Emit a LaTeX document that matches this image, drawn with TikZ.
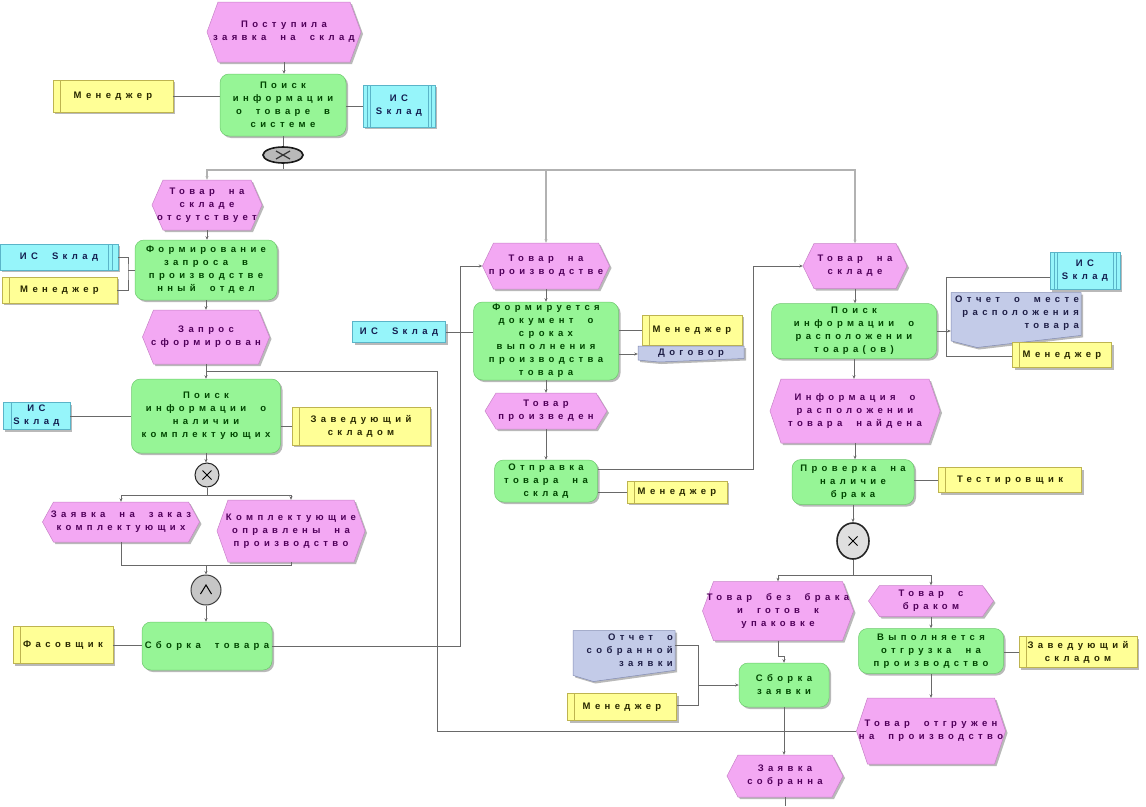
\documentclass[tikz,border=0pt]{standalone}
\usepackage{fontspec}
\setmainfont{Liberation Sans}[LetterSpace=46,WordSpace=2]
\usetikzlibrary{shapes.geometric,shadows,arrows.meta,calc}
\definecolor{evfill}{RGB}{243,168,243}
\definecolor{evedge}{RGB}{200,130,200}
\definecolor{evtext}{RGB}{80,0,90}
\definecolor{fncol}{RGB}{150,245,150}
\definecolor{fnedge}{RGB}{110,200,110}
\definecolor{fntext}{RGB}{0,70,0}
\definecolor{rolecol}{RGB}{255,255,150}
\definecolor{roleedge}{RGB}{190,180,80}
\definecolor{roletext}{RGB}{40,40,0}
\definecolor{iscol}{RGB}{150,245,250}
\definecolor{isedge}{RGB}{90,180,200}
\definecolor{istext}{RGB}{20,30,80}
\definecolor{doccol}{RGB}{195,203,232}
\definecolor{docedge}{RGB}{130,140,180}
\definecolor{doctext}{RGB}{30,30,70}
\definecolor{linecol}{RGB}{105,105,105}
\definecolor{shadowcol}{RGB}{185,185,185}
\newcommand\dgfont{\fontsize{9.5}{13}\selectfont\bfseries}
\newcommand\ev[6]{%
\fill[shadowcol] ({#2-#4/2+2},{#3+2}) -- ({#2-#4/2+13},{#3-#5/2+2}) -- ({#2+#4/2-9},{#3-#5/2+2}) -- ({#2+#4/2+2},{#3+2}) -- ({#2+#4/2-9},{#3+#5/2+2}) -- ({#2-#4/2+13},{#3+#5/2+2}) -- cycle;
\filldraw[evshape] ({#2-#4/2},{#3}) -- ({#2-#4/2+11},{#3-#5/2}) -- ({#2+#4/2-11},{#3-#5/2}) -- ({#2+#4/2},{#3}) -- ({#2+#4/2-11},{#3+#5/2}) -- ({#2-#4/2+11},{#3+#5/2}) -- cycle;
\node[evt, minimum width=#4, minimum height=#5] (#1) at (#2,#3) {#6};}
\newcommand\docshape[5]{%
\fill[shadowcol] ({#2-#4/2+2},{#3-#5/2+2}) -- ({#2+#4/2+2},{#3-#5/2+2}) -- ({#2+#4/2+2},{#3+#5/2-0.22*#5+2}) -- ({#2-#4/2+0.2*#4+2},{#3+#5/2+2}) -- ({#2-#4/2+2},{#3+#5/2-0.12*#5+2}) -- cycle;
\filldraw[docfill] ({#2-#4/2},{#3-#5/2}) -- ({#2+#4/2},{#3-#5/2}) -- ({#2+#4/2},{#3+#5/2-0.22*#5}) -- ({#2-#4/2+0.2*#4},{#3+#5/2}) -- ({#2-#4/2},{#3+#5/2-0.12*#5}) -- cycle;
\node[docbox, minimum width=#4, minimum height=#5] (#1) at (#2,#3) {};}
% document with right-aligned text at the top
\newcommand\docuR[6]{\docshape{#1}{#2}{#3}{#4}{#5}%
\node[doct, align=right, anchor=north east] (#1t) at ({#2+#4/2-2},{#3-#5/2+3}) {#6};}
% document with centred text
\newcommand\docuC[6]{\docshape{#1}{#2}{#3}{#4}{#5}%
\node[doct, align=center] (#1t) at (#2,{#3-1}) {#6};}
\newcommand\vdown[2]{\draw[flow] (#1.south) -- (#1.south |- #2.north);}
\begin{document}
\begin{tikzpicture}[x=1pt,y=-1pt,
  conn/.style={draw=linecol, line width=0.8pt},
  flow/.style={conn, -{Stealth[length=3.5pt,width=3pt]}},
  trunk/.style={draw=gray!60, line width=1.4pt, -{Stealth[length=3.5pt,width=3pt]}},
  sh/.style={drop shadow={shadow xshift=2pt, shadow yshift=-2pt, fill=shadowcol, opacity=1}},
  evshape/.style={fill=evfill, draw=evedge, line width=0.5pt},
  docfill/.style={fill=doccol, draw=docedge, line width=0.5pt},
  docbox/.style={rectangle, inner sep=0pt},
  evt/.style={rectangle, inner sep=0pt, align=center, text=evtext, font=\dgfont},
  doct/.style={rectangle, inner sep=0pt, text=doctext, font=\dgfont},
  fn/.style={rectangle, rounded corners=9pt, fill=fncol, draw=fnedge, line width=0.5pt, inner sep=0pt, align=center, text=fntext, font=\dgfont, sh},
  role/.style={rectangle, fill=rolecol, draw=roleedge, line width=0.5pt, inner sep=0pt, align=center, text=roletext, font=\dgfont, sh,
    path picture={\draw[roleedge, line width=0.8pt] ([xshift=7pt]path picture bounding box.north west) -- ([xshift=7pt]path picture bounding box.south west);}},
  is/.style={rectangle, fill=iscol, draw=isedge, line width=0.5pt, inner sep=0pt, align=center, text=istext, font=\dgfont, sh},
  isR/.style={path picture={\draw[isedge, line width=0.7pt] ([xshift=-6pt]path picture bounding box.north east) -- ([xshift=-6pt]path picture bounding box.south east) ([xshift=-10pt]path picture bounding box.north east) -- ([xshift=-10pt]path picture bounding box.south east);}},
  isL/.style={path picture={\draw[isedge, line width=0.7pt] ([xshift=8pt]path picture bounding box.north west) -- ([xshift=8pt]path picture bounding box.south west);}},
  isLR/.style={path picture={\draw[isedge, line width=0.7pt] ([xshift=4pt]path picture bounding box.north west) -- ([xshift=4pt]path picture bounding box.south west) ([xshift=7pt]path picture bounding box.north west) -- ([xshift=7pt]path picture bounding box.south west) ([xshift=-4pt]path picture bounding box.north east) -- ([xshift=-4pt]path picture bounding box.south east) ([xshift=-7pt]path picture bounding box.north east) -- ([xshift=-7pt]path picture bounding box.south east);}},
  gx/.style={circle, draw=black!85, fill=gray!35, line width=1pt, inner sep=0pt,
    path picture={\draw[black, line width=1pt] ([shift={(-4.5pt,-4.5pt)}]path picture bounding box.center) -- ([shift={(4.5pt,4.5pt)}]path picture bounding box.center) ([shift={(-4.5pt,4.5pt)}]path picture bounding box.center) -- ([shift={(4.5pt,-4.5pt)}]path picture bounding box.center);}},
  gx1/.style={ellipse, draw=black!90, fill=gray!55, line width=1.6pt, inner sep=0pt, minimum width=40pt, minimum height=16pt,
    path picture={\draw[black!80, line width=1.2pt] ([shift={(-7pt,-4pt)}]path picture bounding box.center) -- ([shift={(7pt,4pt)}]path picture bounding box.center) ([shift={(-7pt,4pt)}]path picture bounding box.center) -- ([shift={(7pt,-4pt)}]path picture bounding box.center);}},
  ga/.style={circle, draw=black!75, fill=gray!45, line width=1pt, inner sep=0pt,
    path picture={\draw[black, line width=1pt] ([shift={(-5.5pt,-4pt)}]path picture bounding box.center) -- ([shift={(0pt,5pt)}]path picture bounding box.center) -- ([shift={(5.5pt,-4pt)}]path picture bounding box.center);}}
]
\useasboundingbox (0,0) rectangle (1146,806);
\fill[white] (0,0) rectangle (1146,806);

% ---------- top ----------
\ev{e1}{284}{32}{154}{60}{Поступила\\заявка на склад}
\node[fn, minimum width=126, minimum height=62] (f1) at (283,105) {Поиск\\информации\\о товаре в\\системе};
\node[role, minimum width=120, minimum height=32] (r1) at (113,96) {Менеджер};
\node[is, isLR, minimum width=72, minimum height=42] (s1) at (399,106) {ИС\\Sклад};
\node[gx1] (g1) at (283,155) {};
\coordinate (b1) at (283,170);

% ---------- left column ----------
\ev{e2}{207}{205}{110}{50}{Товар на\\складе\\отсутствует}
\node[fn, minimum width=142, minimum height=60] (f2) at (206,270) {Формирование\\запроса в\\производстве\\нный отдел};
\node[is, isR, minimum width=118, minimum height=26] (s2) at (59,257) {ИС Sклад};
\node[role, minimum width=115, minimum height=26] (r2) at (59.5,290) {Менеджер};
\coordinate (k2) at (128,270);
\ev{e3}{206}{337}{127}{54}{Запрос\\сформирован}
\node[fn, minimum width=149, minimum height=74] (f3) at (206,416) {Поиск\\информации о\\наличии\\комплектующих};
\node[is, isL, minimum width=67, minimum height=27] (s3) at (36.5,416) {ИС\\Sклад};
\node[role, minimum width=138, minimum height=38] (r3) at (361,426) {Заведующий\\складом};
\node[gx, minimum size=24] (g2) at (207,475) {};
\coordinate (b2) at (207,495);
\ev{e4}{121}{522}{157}{40}{Заявка на заказ\\комплектующих}
\ev{e5}{291}{531}{148}{62}{Комплектующие\\оправлены на\\производство}
\coordinate (b3) at (206,565);
\node[ga, minimum size=30] (g3) at (206,590) {};
\node[fn, minimum width=130, minimum height=48] (f4) at (207,646) {Сборка товара};
\node[role, minimum width=100, minimum height=37] (r4) at (63,645) {Фасовщик};

% ---------- middle column ----------
\ev{e6}{546}{266}{127}{46}{Товар на\\производстве}
\node[fn, minimum width=145, minimum height=78] (f5) at (546,341) {Формируется\\документ о\\сроках\\выполнения\\производства\\товара};
\node[is, minimum width=93, minimum height=21] (s4) at (399,332) {ИС Sклад};
\node[role, minimum width=100, minimum height=30] (r5) at (692,330) {Менеджер};
\docuC{d1}{691}{354}{106}{16}{Договор}
\ev{e7}{546}{411}{122}{36}{Товар\\произведен}
\node[fn, minimum width=103, minimum height=42] (f6) at (546,481) {Отправка\\товара на\\склад};
\node[role, minimum width=100, minimum height=22] (r6) at (677,492) {Менеджер};

% ---------- right column ----------
\ev{e8}{855}{266}{104}{45}{Товар на\\складе}
\node[fn, minimum width=165, minimum height=55] (f7) at (854,331) {Поиск\\информации о\\расположении\\тоара(ов)};
\node[is, isLR, minimum width=70, minimum height=37] (s5) at (1085,271) {ИС\\Sклад};
\docuR{d2}{1016}{320}{130}{55}{Отчет о месте\\расположения\\товара}
\node[role, minimum width=99, minimum height=25] (r7) at (1062,355) {Менеджер};
\ev{e9}{855}{411}{170}{64}{Информация о\\расположении\\товара найдена}
\node[fn, minimum width=122, minimum height=45] (f8) at (853,482) {Проверка на\\наличие\\брака};
\node[role, minimum width=143, minimum height=25] (r8) at (1010,480) {Тестировщик};
\node[gx, ellipse, minimum width=32, minimum height=36, line width=1.6pt, fill=gray!25] (g4) at (853,541) {};
\coordinate (b4) at (853,575);
\ev{e10}{778}{611}{151}{59}{Товар без брака\\и готов к\\упаковке}
\ev{e11}{931}{601}{125}{31}{Товар с\\браком}
\node[fn, minimum width=145, minimum height=45] (f9) at (931,651) {Выполняется\\отгрузка на\\производство};
\node[role, minimum width=118, minimum height=31] (r9) at (1078,652) {Заведующий\\складом};
\ev{e12}{931}{731}{149}{66}{Товар отгружен\\на производство}
\docuR{d3}{624}{656}{102}{51}{Отчет о\\собранной\\заявки}
\node[role, minimum width=109, minimum height=27] (r10) at (622,707) {Менеджер};
\node[fn, minimum width=90, minimum height=44] (f10) at (784,685) {Сборка\\заявки};
\ev{e13}{785}{776}{116}{42}{Заявка\\собранна}
\coordinate (end) at (785,806);

% ---------- connectors ----------
\vdown{e1}{f1}
\draw[conn] (r1.east) -- (r1.east -| f1.west);
\draw[conn] (f1.east |- s1.west) -- (s1.west);
\draw[conn] (f1) -- (g1);
\draw[conn] (g1) -- (b1);
\draw[trunk] (b1) -| (e2.north);
\draw[trunk] (b1) -| (e6.north);
\draw[trunk] (b1) -| (e8.north);

\vdown{e2}{f2}
\draw[conn] (s2.east) -| (k2) |- (r2.east);
\draw[conn] (k2) -- (k2 -| f2.west);
\vdown{f2}{e3}
\vdown{e3}{f3}
\coordinate (j1) at (206,371);
\coordinate (c1) at (437,371);
\draw[conn] (e12.west) -| (c1) -- (j1);
\draw[conn] (s3.east) -- (s3.east -| f3.west);
\draw[conn] (r3.west -| f3.east) -- (r3.west);
\vdown{f3}{g2}
\draw[conn] (g2.south) -- (b2);
\draw[flow] (b2) -| (e4.north);
\draw[flow] (b2) -| (e5.north);
\draw[conn] (e4.south) |- (b3);
\draw[conn] (e5.south) |- (b3);
\draw[flow] (b3) -- (g3.north);
\vdown{g3}{f4}
\draw[conn] (r4.east) -- (r4.east -| f4.west);
\coordinate (c2) at (460,266);
\draw[flow] (f4.east) -| (c2) -- (e6.west);

\vdown{e6}{f5}
\draw[conn] (s4.east) -- (s4.east -| f5.west);
\draw[conn] (r5.west -| f5.east) -- (r5.west);
\draw[flow] (d1.west -| f5.east) -- (d1.west);
\vdown{f5}{e7}
\vdown{e7}{f6}
\draw[conn] (r6.west -| f6.east) -- (r6.west);
\coordinate (c4) at (753,469);
\coordinate (c3) at (753,266);
\draw[flow] (c4 -| f6.east) -- (c4) -- (c3) -- (e8.west);

\vdown{e8}{f7}
\coordinate (k7) at (946,331);
\coordinate (k7a) at (946,277);
\coordinate (k7b) at (946,356);
\draw[conn] (f7.east) -- (k7);
\draw[flow] (k7) -- (k7 -| d2.west);
\draw[conn] (k7a -| s5.west) -- (k7a) -- (k7b) -- (k7b -| r7.west);
\vdown{f7}{e9}
\vdown{e9}{f8}
\draw[conn] (f8.east |- r8.west) -- (r8.west);
\vdown{f8}{g4}
\draw[conn] (g4.south) -- (b4);
\draw[flow] (b4) -| (e10.north);
\draw[flow] (b4) -| (e11.north);
\draw[flow] (e10.south) -- ++(0,16) -| (f10.north);
\vdown{e11}{f9}
\draw[conn] (f9.east |- r9.west) -- (r9.west);
\vdown{f9}{e12}
\coordinate (k10a) at (698,645);
\coordinate (k10b) at (698,705);
\coordinate (k10) at (698,685);
\draw[conn] (k10a -| d3.east) -- (k10a) -- (k10b) -- (k10b -| r10.east);
\draw[flow] (k10) -- (f10.west);
\vdown{f10}{e13}
\draw[conn] (e13.south) -- (end);
\end{tikzpicture}
\end{document}
